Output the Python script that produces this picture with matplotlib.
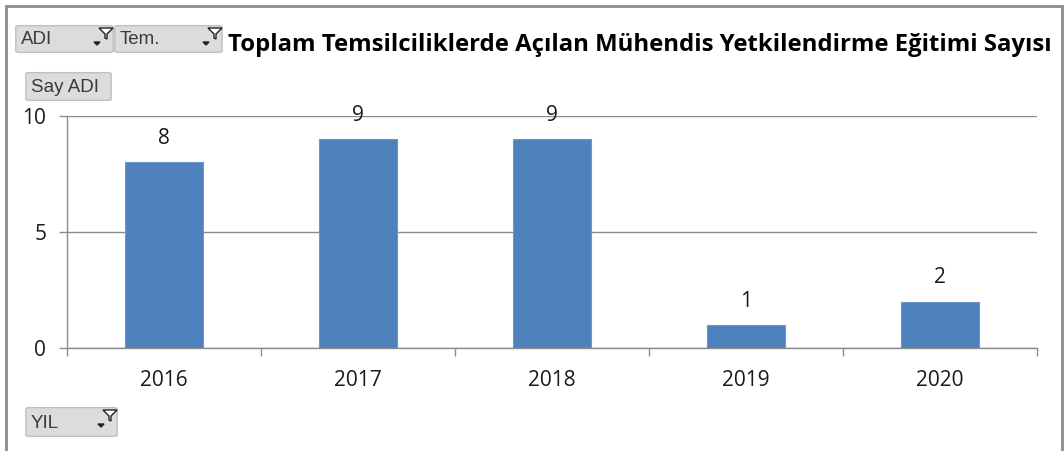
import matplotlib
matplotlib.use("Agg")
import matplotlib.pyplot as plt
from matplotlib.patches import FancyBboxPatch, Rectangle, Polygon

years = ["2016", "2017", "2018", "2019", "2020"]
counts = [8, 9, 9, 1, 2]
title = "Toplam Temsilciliklerde Açılan Mühendis Yetkilendirme Eğitimi Sayısı"
buttons = [("ADI", 16, 24, 97, 30), ("Tem.", 115, 24, 107, 30),
           ("Say ADI", 26, 71, 85, 31), ("YIL", 26, 406, 91, 32)]

W, H = 1064, 451
plt.rcParams['font.family'] = ['Open Sans', 'DejaVu Sans']
fig = plt.figure(figsize=(W / 100, H / 100), dpi=100)

def fx(x):
    return x / W

def fy(y):
    return 1 - y / H

# outer chart border
fig.patches.append(Rectangle((fx(6), fy(460)), fx(1062) - fx(6), fy(6) - fy(460),
                             transform=fig.transFigure, fill=False,
                             edgecolor='#8c8c8c', lw=2))

ax = fig.add_axes([fx(67), fy(348), fx(1037) - fx(67), fy(116) - fy(348)])
x = list(range(len(years)))
bars = ax.bar(x, counts, width=0.4, color='#4f81bd', edgecolor='#6f98c9', lw=0.8, zorder=3)
for xi, v in zip(x, counts):
    ax.annotate(str(v), (xi, v), xytext=(0, 17), textcoords='offset points',
                ha='center', va='center', fontsize=15, color='#1a1a1a')

ax.set_xlim(-0.5, len(years) - 0.5)
ax.set_ylim(0, 10)
ax.set_yticks([0, 5, 10])
ax.set_xticks(x)
ax.set_xticklabels(years)
ax.set_xticks([i - 0.5 for i in range(len(years) + 1)], minor=True)
ax.tick_params(axis='x', which='major', length=0, pad=16, labelsize=15, labelcolor='#1a1a1a')
ax.tick_params(axis='x', which='minor', length=6, color='#8c8c8c', width=1)
ax.tick_params(axis='y', length=6, color='#8c8c8c', width=1, pad=9, labelsize=15,
               labelcolor='#1a1a1a')
ax.grid(axis='y', color='#8c8c8c', lw=1, zorder=0)
for s in ['top', 'right']:
    ax.spines[s].set_visible(False)
for s in ['left', 'bottom']:
    ax.spines[s].set_color('#8c8c8c')
    ax.spines[s].set_linewidth(1)
ax.spines['bottom'].set_zorder(4)

fig.text(fx(228), fy(45), title, fontsize=17.2, fontweight='bold', ha='left', va='center')

# pivot field buttons
for label, bx, by, bw, bh in buttons:
    fig.patches.append(FancyBboxPatch((fx(bx + 3), fy(by + bh - 3)), fx(bw - 6), fy(0) - fy(bh - 6),
                                      boxstyle="round,pad=0.003", transform=fig.transFigure,
                                      facecolor='#dcdcdc', edgecolor='#c0c0c0', lw=1))
    fig.text(fx(bx + 5), fy(by + bh / 2 + 1), label, fontsize=13.5, ha='left', va='center',
             color='#3a3a3a', family=['Liberation Sans', 'DejaVu Sans'])
    if label != "Say ADI":
        # dropdown arrow and funnel
        ax_ = bx + bw - 16
        fig.patches.append(Polygon([(fx(ax_ - 3), fy(by + 18)), (fx(ax_ + 3), fy(by + 18)),
                                    (fx(ax_), fy(by + 21))], closed=True,
                                   transform=fig.transFigure, color='#222222'))
        fx0 = bx + bw - 7
        fig.patches.append(Polygon([(fx(fx0 - 7), fy(by + 4)), (fx(fx0 + 7), fy(by + 4)),
                                    (fx(fx0 + 1), fy(by + 10)), (fx(fx0 + 1), fy(by + 15)),
                                    (fx(fx0 - 1), fy(by + 14)), (fx(fx0 - 1), fy(by + 10))],
                                   closed=True, transform=fig.transFigure,
                                   facecolor='#ffffff', edgecolor='#222222', lw=1))

fig.savefig("out.png", dpi=100)
